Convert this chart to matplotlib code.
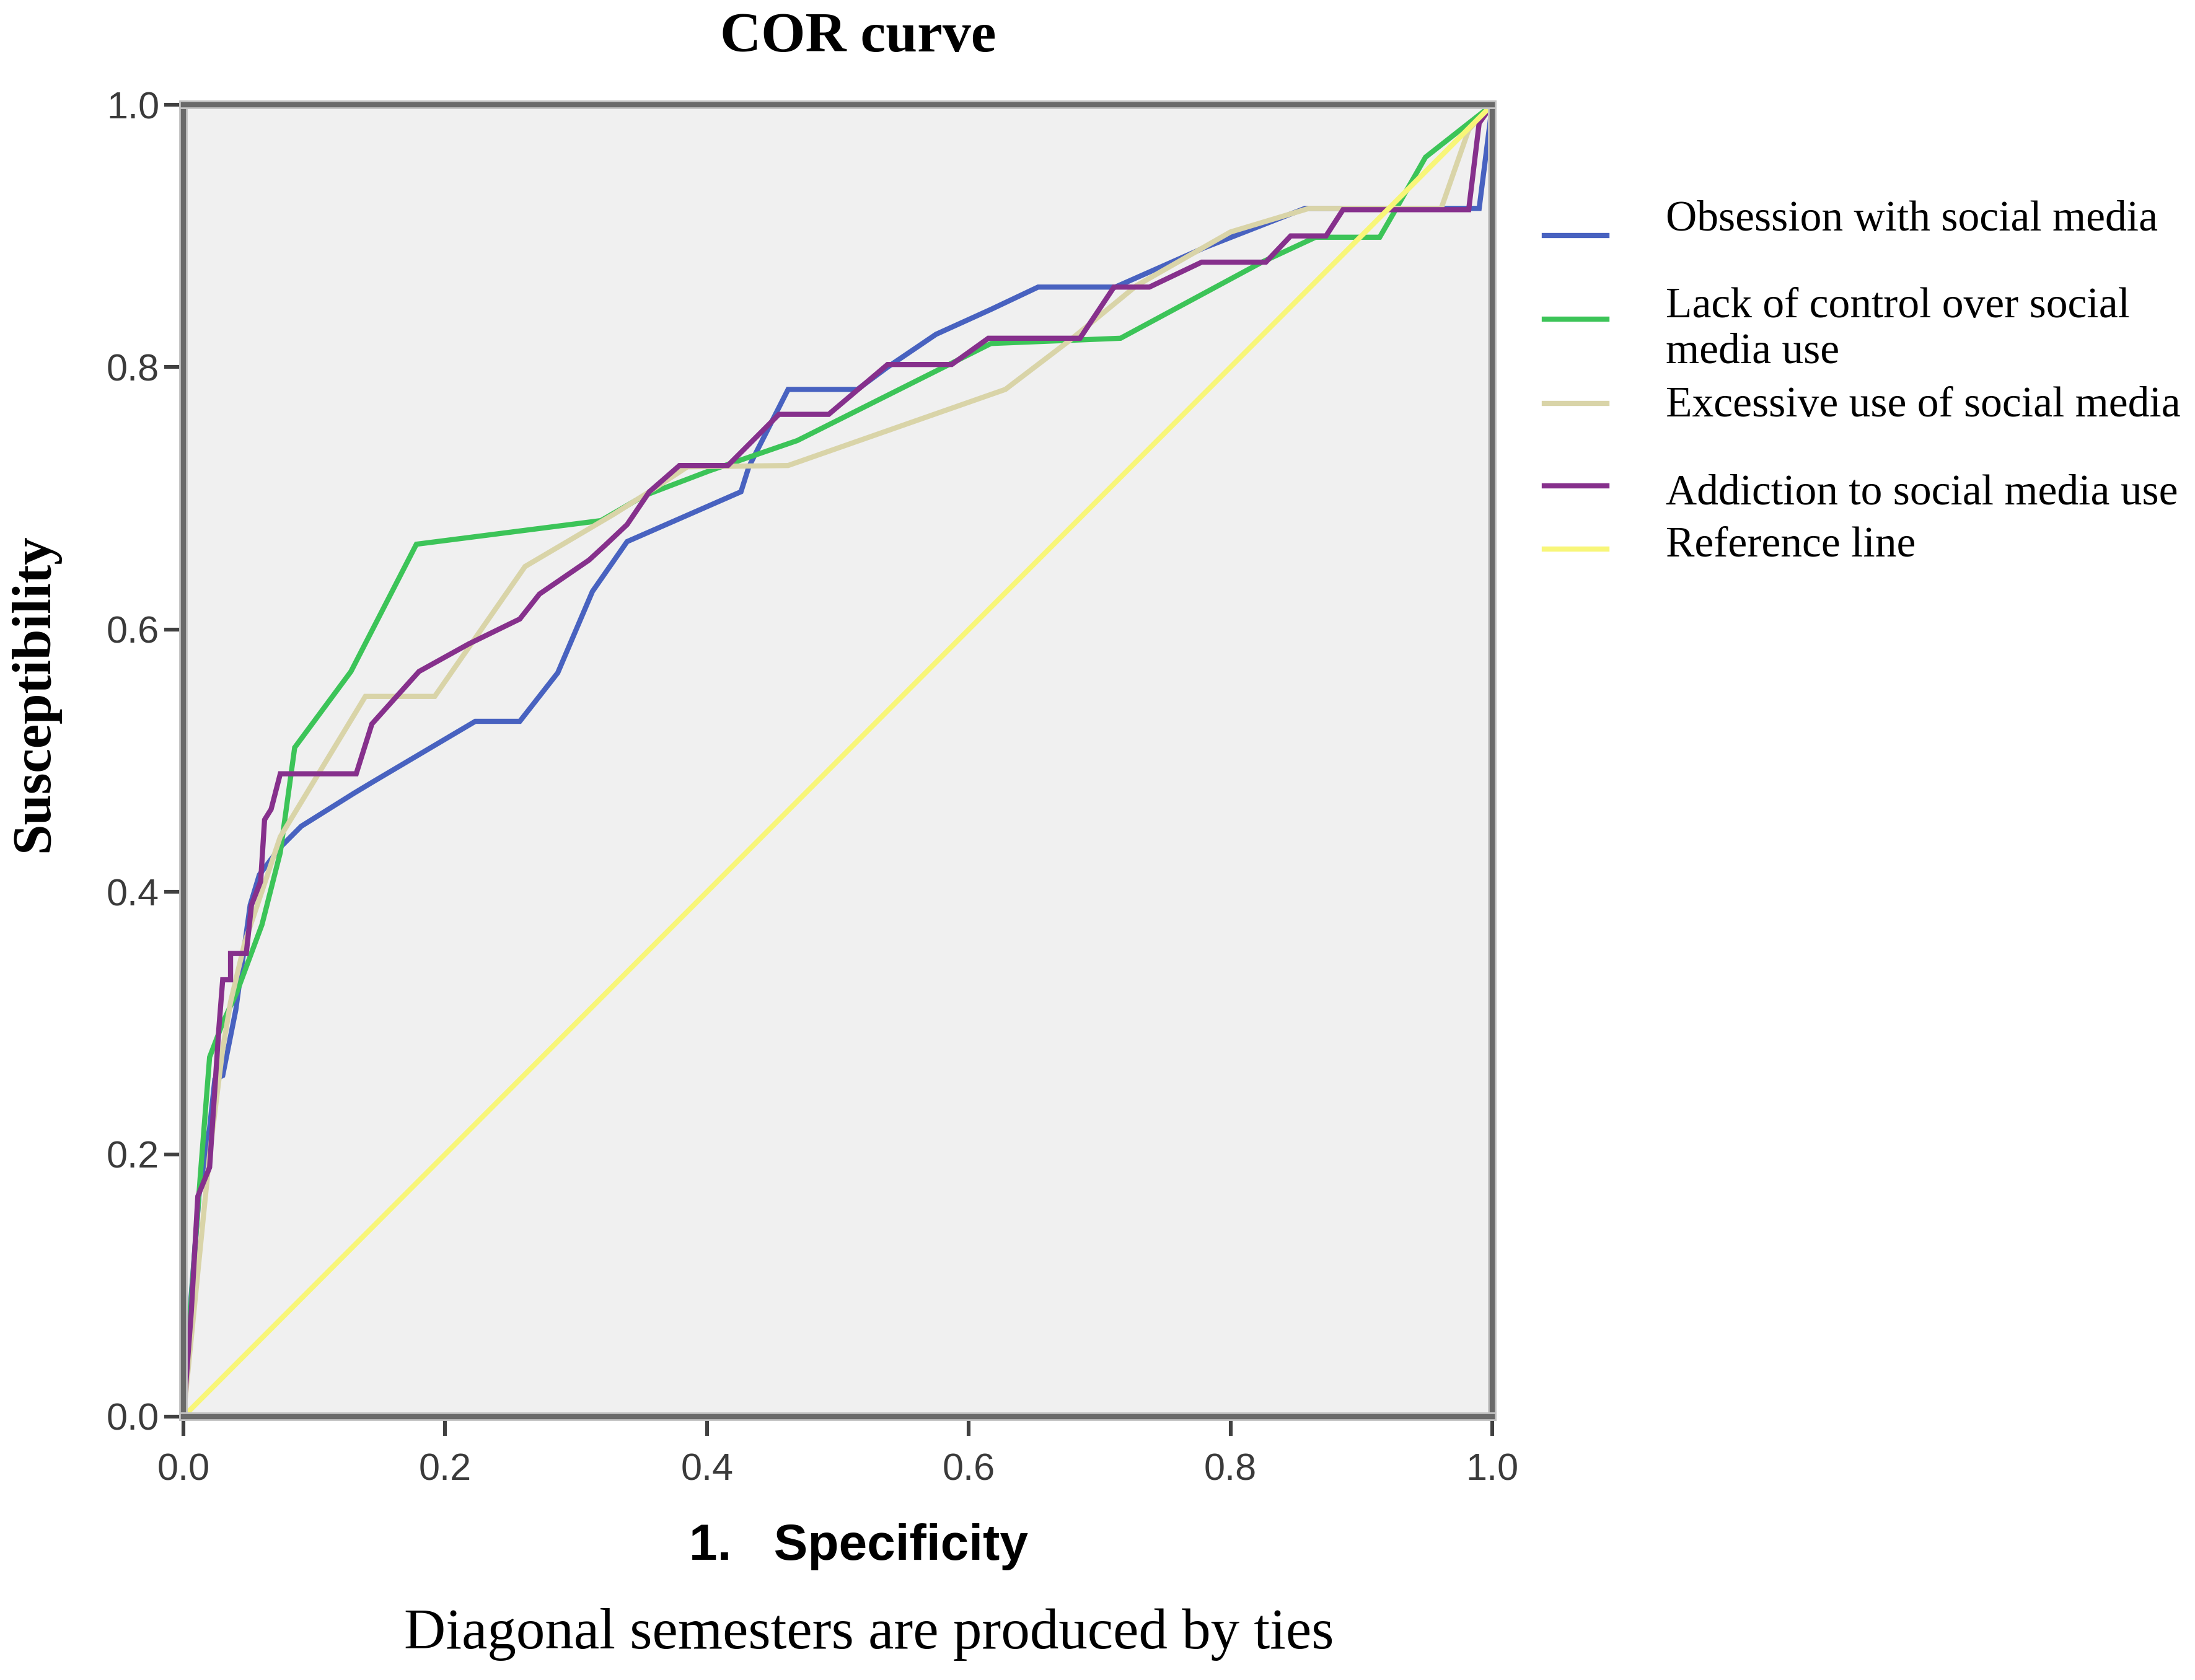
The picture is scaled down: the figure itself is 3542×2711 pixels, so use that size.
import matplotlib
matplotlib.use("Agg")
import matplotlib.pyplot as plt
from matplotlib.lines import Line2D
import matplotlib.patheffects as pe

# ---------------- data ----------------
series_names = ["Obsession with social media",
                "Lack of control over social\nmedia use",
                "Excessive use of social media",
                "Addiction to social media use",
                "Reference line"]

obs_x = [0, 0.005, 0.012, 0.02, 0.024, 0.03, 0.04, 0.051, 0.058, 0.074, 0.09, 0.13, 0.145, 0.223, 0.257,
         0.286, 0.3125, 0.339, 0.426, 0.432, 0.462, 0.515, 0.538, 0.575, 0.617, 0.653, 0.712, 0.78, 0.857, 0.99, 1.0]
obs_y = [0, 0.08, 0.17, 0.22, 0.257, 0.26, 0.31, 0.39, 0.413, 0.434, 0.45, 0.475, 0.484, 0.53, 0.53,
         0.567, 0.629, 0.667, 0.705, 0.724, 0.783, 0.783, 0.80, 0.825, 0.844, 0.861, 0.861, 0.891, 0.921, 0.921, 1.0]

ctl_x = [0, 0.006, 0.013, 0.02, 0.03, 0.041, 0.06, 0.074, 0.085, 0.128, 0.178, 0.319, 0.352, 0.402, 0.469,
         0.585, 0.617, 0.716, 0.77, 0.824, 0.865, 0.914, 0.925, 0.949, 1.0]
ctl_y = [0, 0.09, 0.185, 0.274, 0.30, 0.324, 0.375, 0.43, 0.51, 0.568, 0.665, 0.683, 0.702, 0.721, 0.744,
         0.802, 0.818, 0.822, 0.851, 0.88, 0.899, 0.899, 0.918, 0.96, 1.0]

exc_x = [0, 0.01, 0.02, 0.03, 0.036, 0.047, 0.074, 0.139, 0.192, 0.261, 0.329, 0.356, 0.385, 0.462, 0.628,
         0.678, 0.728, 0.80, 0.86, 0.961, 0.982, 1.0]
exc_y = [0, 0.1, 0.2, 0.28, 0.316, 0.362, 0.442, 0.549, 0.549, 0.648, 0.688, 0.705, 0.724, 0.725, 0.783,
         0.821, 0.862, 0.903, 0.921, 0.921, 0.981, 1.0]

add_x = [0, 0.006, 0.011, 0.02, 0.027, 0.030, 0.036, 0.036, 0.048, 0.052, 0.059, 0.062, 0.067, 0.074, 0.132,
         0.144, 0.18, 0.218, 0.257, 0.272, 0.31, 0.322, 0.339, 0.356, 0.379, 0.416, 0.455, 0.493, 0.538, 0.587,
         0.615, 0.685, 0.711, 0.738, 0.778, 0.827, 0.846, 0.873, 0.886, 0.982, 0.99, 1.0]
add_y = [0, 0.08, 0.168, 0.19, 0.295, 0.333, 0.333, 0.353, 0.353, 0.39, 0.408, 0.455, 0.463, 0.49, 0.49,
         0.528, 0.568, 0.589, 0.608, 0.627, 0.653, 0.664, 0.68, 0.705, 0.725, 0.725, 0.764, 0.764, 0.802, 0.802,
         0.822, 0.822, 0.861, 0.861, 0.88, 0.88, 0.9, 0.9, 0.92, 0.92, 0.986, 1.0]

ref_x = [0, 1]
ref_y = [0, 1]

tick_vals = [0.0, 0.2, 0.4, 0.6, 0.8, 1.0]
tick_labels = ["0.0", "0.2", "0.4", "0.6", "0.8", "1.0"]

colors = ["#4862c0", "#3cc458", "#d9d4a8", "#86308c", "#f8f678"]

# ---------------- figure ----------------
DPI = 200
fig = plt.figure(figsize=(3542 / DPI, 2711 / DPI), dpi=DPI)
ax = fig.add_axes([296 / 3542, 1 - 2286 / 2711, (2408 - 296) / 3542, (2286 - 169) / 2711])
ax.set_facecolor("#f0f0f0")

lw = 3.0
xs = [obs_x, ctl_x, exc_x, add_x, ref_x]
ys = [obs_y, ctl_y, exc_y, add_y, ref_y]
for i in range(5):
    ax.plot(xs[i], ys[i], color=colors[i], lw=lw, zorder=3 + i, solid_joinstyle="miter")

ax.set_xlim(0, 1)
ax.set_ylim(0, 1)
ax.set_xticks(tick_vals)
ax.set_xticklabels(tick_labels)
ax.set_yticks(tick_vals)
ax.set_yticklabels(tick_labels)

for s in ax.spines.values():
    s.set_color("#6a6a6a")
    s.set_linewidth(3.0)
    s.set_path_effects([pe.Stroke(linewidth=5.0, foreground="#c4c4c4"), pe.Normal()])
    s.set_zorder(10)

ax.tick_params(direction="out", length=11, width=2.2, color="#404040",
               labelsize=22, labelcolor="#3a3a3a")
ax.tick_params(axis="x", pad=10)
ax.tick_params(axis="y", pad=3)
for lab in ax.get_xticklabels() + ax.get_yticklabels():
    lab.set_family("Liberation Sans")

# texts
fig.text(1385 / 3542, 1 - 61 / 2711, "COR curve", family="Liberation Serif", fontweight="bold",
         fontsize=33, ha="center", va="center")
fig.text(56 / 3542, 1 - 1118 / 2711, "Susceptibility", family="Liberation Serif", fontweight="bold",
         fontsize=32, ha="center", va="center", rotation=90)
fig.text(1385 / 3542, 1 - 2496 / 2711, "1.   Specificity", family="Liberation Sans", fontweight="bold",
         fontsize=29.5, ha="center", va="center")
fig.text(1402 / 3542, 1 - 2638 / 2711, "Diagonal semesters are produced by ties", family="Liberation Serif",
         fontsize=33.5, ha="center", va="center")

# legend (manual layout)
line_y = [380, 515, 651, 784, 886]
text_y = [355, 532, 655, 797, 881]
for i in range(5):
    fy = 1 - line_y[i] / 2711
    fig.add_artist(Line2D([2492 / 3542, 2593 / 3542], [fy, fy], color=colors[i], lw=3.0,
                          transform=fig.transFigure))
    fig.text(2688 / 3542, 1 - text_y[i] / 2711, series_names[i], family="Liberation Serif",
             fontsize=25, ha="left", va="center", linespacing=1.2)

fig.savefig("out.png", dpi=DPI, facecolor="white")
